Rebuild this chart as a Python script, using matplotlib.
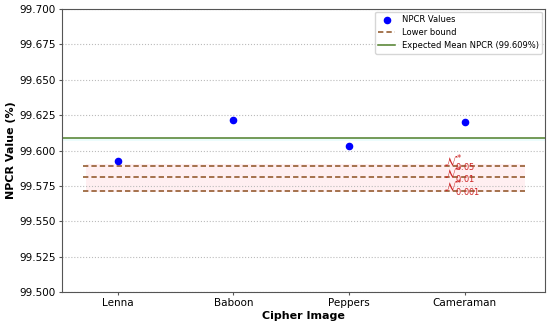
import matplotlib.pyplot as plt
import numpy as np

images = ['Lenna', 'Baboon', 'Peppers', 'Cameraman']
npcr = [99.5925, 99.6219, 99.6035, 99.6201]
bounds = [99.5893, 99.5810, 99.5717]
bound_labels = [r'$\mathcal{N}^*_{0.05}$', r'$\mathcal{N}^*_{0.01}$', r'$\mathcal{N}^*_{0.001}$']
expected_mean = 99.609

fig = plt.figure(figsize=(5.5, 3.26), dpi=100)
ax = plt.gca()
x = np.arange(len(images))

ax.axhspan(min(bounds) - 0.001, max(bounds) + 0.001, xmin=0.05, xmax=0.96, color='pink', alpha=0.25, lw=0)
ax.axhspan(expected_mean - 0.002, expected_mean, color='#e0fbfb', alpha=0.6, lw=0)

ax.scatter(x, npcr, color='blue', s=20, zorder=3, label='NPCR Values')
for i, b in enumerate(bounds):
    ax.hlines(b, -0.3, 3.52, colors='#8c4f1f', linestyles=(0, (3.5, 2)), lw=1.1,
              label='Lower bound' if i == 0 else None)
    ax.text(2.82, b + 0.0013, bound_labels[i], color='#cc2222', fontsize=8.5, va='center')
ax.axhline(expected_mean, color='#4f7f2a', lw=1.1, label='Expected Mean NPCR (99.609%)')

ax.set_xticks(x)
ax.set_xticklabels(images, fontsize=7.5)
ax.set_xlim(-0.48, 3.69)
ax.set_ylim(99.5, 99.7)
ax.set_yticks(np.arange(99.5, 99.7001, 0.025))
ax.yaxis.set_major_formatter(plt.FormatStrFormatter('%.3f'))
ax.tick_params(axis='y', labelsize=7.5)
ax.tick_params(length=2.5, pad=2, color='#555555')
for s in ax.spines.values():
    s.set_color('#555555')
ax.grid(axis='y', linestyle=':', color='#bbbbbb', lw=0.8)
ax.set_xlabel('Cipher Image', fontsize=8, fontweight='bold')
ax.set_ylabel('NPCR Value (%)', fontsize=8, fontweight='bold')
ax.yaxis.set_label_coords(-0.095, 0.5)
ax.xaxis.set_label_coords(0.5, -0.067)
ax.legend(loc='upper right', fontsize=6, borderaxespad=0.3)

plt.subplots_adjust(left=0.113, right=0.99, top=0.972, bottom=0.104)
plt.savefig('out.png', dpi=100)
